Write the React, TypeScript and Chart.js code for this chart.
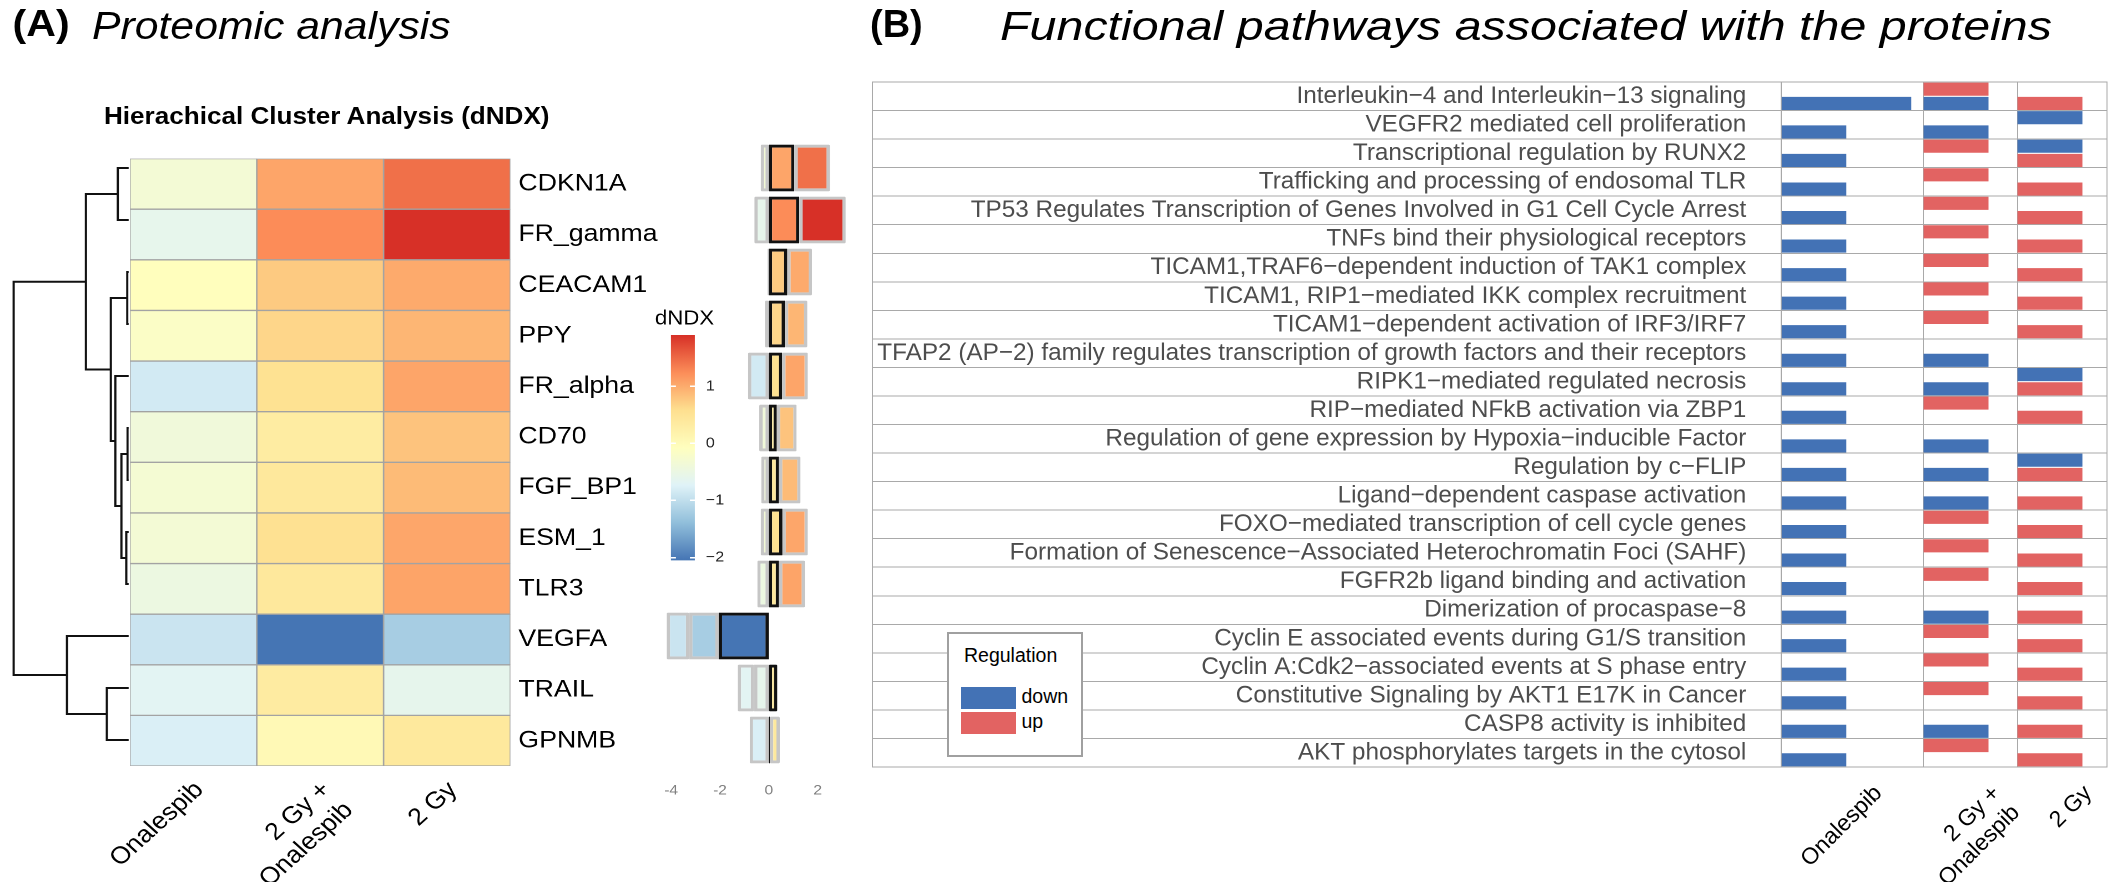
import React, { useEffect, useRef } from 'react';
import { Chart, registerables } from 'chart.js';

Chart.register(...registerables);

const SX = 1.11; // panel A of the reference is horizontally stretched
const FONT = "'Liberation Sans', Arial, Helvetica, sans-serif";
Chart.defaults.font.family = FONT;

/* ---------------- Panel A data ---------------- */
const proteins = ['CDKN1A', 'FR_gamma', 'CEACAM1', 'PPY', 'FR_alpha', 'CD70', 'FGF_BP1', 'ESM_1', 'TLR3', 'VEGFA', 'TRAIL', 'GPNMB'];
const treatmentLabels: (string | string[])[] = ['Onalespib', ['2 Gy +', 'Onalespib'], '2 Gy'];
const onalespibDNDX = [-0.33, -0.59, -0.05, -0.16, -0.85, -0.39, -0.31, -0.33, -0.47, -0.92, -0.67, -0.78];
const comboDNDX = [1.05, 1.25, 0.76, 0.66, 0.55, 0.33, 0.42, 0.56, 0.42, -2.05, 0.35, 0.05];
const gyDNDX = [1.45, 1.9, 1.01, 0.92, 1.05, 0.81, 0.88, 1.04, 1.06, -1.21, -0.6, 0.4];
// hclust-style merges (negative = leaf index, positive = earlier merge) and heights
const dendroMerges: [number, number][] = [[-3, -4], [-6, -7], [-8, -9], [2, 3], [-1, -2], [-5, 4], [1, 6], [-11, -12], [5, 7], [-10, 8], [9, 10]];
const dendroHeights = [1.5, 1.2, 2.5, 7.4, 11, 13.5, 18, 22, 43, 62, 115.5];
const annotationRange = [-4.3, 3.2];
const PALETTE = ['#4575b4', '#91bfdb', '#e0f3f8', '#ffffbf', '#fee090', '#fc8d59', '#d73027'];

/* ---------------- Panel B data ---------------- */
const pathways = [
  'Interleukin\u22124 and Interleukin\u221213 signaling',
  'VEGFR2 mediated cell proliferation',
  'Transcriptional regulation by RUNX2',
  'Trafficking and processing of endosomal TLR',
  'TP53 Regulates Transcription of Genes Involved in G1 Cell Cycle Arrest',
  'TNFs bind their physiological receptors',
  'TICAM1,TRAF6\u2212dependent induction of TAK1 complex',
  'TICAM1, RIP1\u2212mediated IKK complex recruitment',
  'TICAM1\u2212dependent activation of IRF3/IRF7',
  'TFAP2 (AP\u22122) family regulates transcription of growth factors and their receptors',
  'RIPK1\u2212mediated regulated necrosis',
  'RIP\u2212mediated NFkB activation via ZBP1',
  'Regulation of gene expression by Hypoxia\u2212inducible Factor',
  'Regulation by c\u2212FLIP',
  'Ligand\u2212dependent caspase activation',
  'FOXO\u2212mediated transcription of cell cycle genes',
  'Formation of Senescence\u2212Associated Heterochromatin Foci (SAHF)',
  'FGFR2b ligand binding and activation',
  'Dimerization of procaspase\u22128',
  'Cyclin E associated events during G1/S transition',
  'Cyclin A:Cdk2\u2212associated events at S phase entry',
  'Constitutive Signaling by AKT1 E17K in Cancer',
  'CASP8 activity is inhibited',
  'AKT phosphorylates targets in the cytosol',
];
const N = null;
const onalespibDown = [2, 1, 1, 1, 1, 1, 1, 1, 1, 1, 1, 1, 1, 1, 1, 1, 1, 1, 1, 1, 1, 1, 1, 1];
const onalespibUp = [N, N, N, N, N, N, N, N, N, N, N, N, N, N, N, N, N, N, N, N, N, N, N, N];
const comboDown = [1, 1, N, N, N, N, N, N, N, 1, 1, N, 1, 1, 1, N, N, N, 1, N, N, N, 1, N];
const comboUp = [1, N, 1, 1, 1, 1, 1, 1, 1, N, N, 1, N, N, N, 1, 1, 1, N, 1, 1, 1, N, 1];
const gyDown = [N, 1, 1, N, N, N, N, N, N, N, 1, N, N, 1, N, N, N, N, N, N, N, N, N, N];
const gyUp = [1, N, 1, 1, 1, 1, 1, 1, 1, N, 1, 1, N, 1, 1, 1, 1, 1, 1, 1, 1, 1, 1, 1];
const panelBLimits = [2.19, 1.446, 1.378]; // x-range of each facet column

/* ---------------- styles / layout (real page px) ---------------- */
const DOWN = '#4372b5';
const UP = '#e26362';
const GRID = '#a9a9a9';
const HM = { l: 129.4, r: 509.4, t: 141.7, b: 765.7 };
const DEN_L = 8;
const AN = { l: 655.8, r: 846.3 };
const CB = { l: 671, r: 695, t: 335, b: 569 };
const PB = { l: 872, c1: 1781.3, r: 2107.3, t: 81.7, b: 766.7 };

const u = (v: number) => v / SX;

const allVals = [...onalespibDNDX, ...comboDNDX, ...gyDNDX];
const dMin = Math.min(...allVals);
const dMax = Math.max(...allVals);

function hexToRgb(h: string) {
  const n = parseInt(h.slice(1), 16);
  return [(n >> 16) & 255, (n >> 8) & 255, n & 255];
}
function colorFor(v: number) {
  const t = Math.max(0, Math.min(1, (v - dMin) / (dMax - dMin))) * (PALETTE.length - 1);
  const i = Math.min(Math.floor(t), PALETTE.length - 2);
  const f = t - i;
  const a = hexToRgb(PALETTE[i]);
  const b = hexToRgb(PALETTE[i + 1]);
  return `rgb(${a.map((x, k) => Math.round(x + (b[k] - x) * f)).join(',')})`;
}

const baseOpts = {
  responsive: false,
  animation: false,
  devicePixelRatio: 2,
  events: [] as string[],
};
const noPlugins = { legend: { display: false }, tooltip: { enabled: false } };

function dendroConfig(): any {
  const pos: { y: number; h: number }[] = [];
  const node = (k: number) => (k < 0 ? { y: -k - 0.5, h: 0 } : pos[k - 1]);
  const links = dendroMerges.map(([a, b], i) => {
    const A = node(a);
    const B = node(b);
    const h = dendroHeights[i];
    pos.push({ y: (A.y + B.y) / 2, h });
    return [{ x: A.h, y: A.y }, { x: h, y: A.y }, { x: h, y: B.y }, { x: B.h, y: B.y }];
  });
  return {
    type: 'scatter',
    data: {
      datasets: links.map((d) => ({
        data: d, showLine: true, borderColor: '#111', borderWidth: 2, pointRadius: 0, clip: false, tension: 0,
      })),
    },
    options: {
      ...baseOpts,
      layout: { padding: 0 },
      plugins: noPlugins,
      scales: {
        x: { type: 'linear', min: 0, max: HM.l - DEN_L, reverse: true, display: false },
        y: { type: 'linear', min: 0, max: proteins.length, reverse: true, display: false },
      },
    },
  };
}

function heatmapConfig(): any {
  const cols = [onalespibDNDX, comboDNDX, gyDNDX];
  return {
    type: 'bar',
    data: {
      labels: proteins,
      datasets: cols.map((vals, c) => ({
        data: vals.map(() => [c, c + 1]),
        backgroundColor: vals.map(colorFor),
        borderColor: '#a3a3a3',
        borderWidth: 1,
        borderSkipped: false,
        grouped: false,
        barPercentage: 1,
        categoryPercentage: 1,
        xAxisID: 'x',
        yAxisID: 'y',
      })),
    },
    options: {
      ...baseOpts,
      indexAxis: 'y',
      layout: { padding: { left: u(60), top: 5, right: 0, bottom: 0 } },
      plugins: noPlugins,
      scales: {
        x: { type: 'linear', min: 0, max: 3, display: false },
        xc: {
          type: 'category', axis: 'x', position: 'bottom', labels: treatmentLabels, offset: true,
          grid: { display: false, drawTicks: false }, border: { display: false },
          ticks: { autoSkip: false, minRotation: 45, maxRotation: 45, padding: 10, labelOffset: 5.5, color: '#000', font: { size: 24 } },
          afterFit: (s: any) => { s.height = 120; },
        },
        y: {
          type: 'category', position: 'right',
          grid: { display: false, drawTicks: false }, border: { display: false },
          ticks: { autoSkip: false, padding: u(8), color: '#000', font: { size: 24 } },
          afterFit: (s: any) => { s.width = u(200); },
        },
      },
    },
  };
}

function annotationConfig(): any {
  const sets = [
    { vals: comboDNDX, border: '#111' },
    { vals: gyDNDX, border: '#c6c6c6' },
    { vals: onalespibDNDX, border: '#c6c6c6' },
  ];
  return {
    type: 'bar',
    data: {
      labels: proteins,
      datasets: sets.map((s) => ({
        data: s.vals,
        backgroundColor: s.vals.map(colorFor),
        borderColor: s.border,
        borderWidth: 3,
        borderSkipped: false,
        borderRadius: 1,
        barPercentage: 0.9,
        categoryPercentage: 1,
      })),
    },
    options: {
      ...baseOpts,
      indexAxis: 'y',
      layout: { padding: { left: u(10), right: u(10), top: 5, bottom: 0 } },
      plugins: noPlugins,
      scales: {
        x: {
          type: 'linear', min: annotationRange[0], max: annotationRange[1], stacked: true,
          grid: { display: false, drawTicks: false }, border: { display: false },
          ticks: { stepSize: 2, includeBounds: false, color: '#808080', font: { size: 14 }, padding: 16 },
          afterFit: (s: any) => { s.height = 50; },
        },
        y: { type: 'category', stacked: true, display: false },
      },
    },
  };
}

function colorbarConfig(): any {
  return {
    type: 'bar',
    data: {
      labels: ['dNDX'],
      datasets: [{
        data: [[dMin, dMax]],
        backgroundColor: (ctx: any) => {
          const a = ctx.chart.chartArea;
          if (!a) return '#fff';
          const g = ctx.chart.ctx.createLinearGradient(0, a.bottom, 0, a.top);
          PALETTE.forEach((c, i) => g.addColorStop(i / (PALETTE.length - 1), c));
          return g;
        },
        borderWidth: 0,
        barPercentage: 1,
        categoryPercentage: 1,
        xAxisID: 'x',
        yAxisID: 'y',
      }],
    },
    options: {
      ...baseOpts,
      layout: { padding: { left: 0, right: 0, top: 0, bottom: 10 } },
      plugins: {
        ...noPlugins,
        title: { display: true, text: 'dNDX', align: 'start', color: '#000', font: { size: 20, weight: 'normal' }, padding: { top: 0, bottom: 4 } },
      },
      scales: {
        x: { type: 'category', display: false },
        yl: {
          type: 'linear', axis: 'y', position: 'left', display: true,
          ticks: { display: false }, grid: { display: false, drawTicks: false }, border: { display: false },
          afterFit: (s: any) => { s.width = u(16); },
        },
        y: {
          type: 'linear', position: 'right', min: dMin, max: dMax,
          ticks: {
            stepSize: 1, includeBounds: false, padding: u(11), color: '#222', font: { size: 14.5 },
            callback: (v: any) => (Number(v) < 0 ? '\u2212' + Math.abs(Number(v)) : String(v)),
          },
          grid: { display: true, drawTicks: false, color: '#ffffff', lineWidth: 1.5, z: 1 },
          border: { display: false, dash: [u(5), u(14)] },
          afterFit: (s: any) => { s.width = u(40); },
        },
      },
    },
  };
}

const framePlugin = {
  id: 'frame',
  beforeDatasetsDraw(chart: any) {
    const { ctx, chartArea: a } = chart;
    ctx.save();
    ctx.strokeStyle = GRID;
    ctx.lineWidth = 1;
    ctx.strokeRect(a.left, a.top, a.right - a.left, a.bottom - a.top);
    const x = chart.scales.y.left + 0.5;
    ctx.beginPath();
    ctx.moveTo(x, a.top);
    ctx.lineTo(x, a.bottom);
    ctx.stroke();
    ctx.restore();
  },
};

function panelBConfig(): any {
  const starts = panelBLimits.map((_, i) => panelBLimits.slice(0, i).reduce((a, b) => a + b, 0));
  const total = panelBLimits.reduce((a, b) => a + b, 0);
  const bounds = [...starts, total];
  const centers = starts.map((s, i) => s + panelBLimits[i] / 2);
  const series: { col: number; reg: 'up' | 'down'; vals: (number | null)[]; slot: string }[] = [
    { col: 0, reg: 'up', vals: onalespibUp, slot: 'top' },
    { col: 0, reg: 'down', vals: onalespibDown, slot: 'bottom' },
    { col: 1, reg: 'up', vals: comboUp, slot: 'top' },
    { col: 1, reg: 'down', vals: comboDown, slot: 'bottom' },
    { col: 2, reg: 'down', vals: gyDown, slot: 'top' },
    { col: 2, reg: 'up', vals: gyUp, slot: 'bottom' },
  ];
  const labelW = PB.c1 - PB.l;
  return {
    type: 'bar',
    data: {
      labels: pathways,
      datasets: series.map((s) => ({
        label: s.reg,
        data: s.vals.map((v) => (v == null ? null : [starts[s.col], starts[s.col] + v])),
        backgroundColor: s.reg === 'up' ? UP : DOWN,
        borderWidth: 0,
        stack: s.slot,
        barPercentage: 0.92,
        categoryPercentage: 1,
        xAxisID: 'x',
        yAxisID: 'y',
      })),
    },
    options: {
      ...baseOpts,
      indexAxis: 'y',
      layout: { padding: { left: 2, right: 10, top: 4, bottom: 0 } },
      plugins: noPlugins,
      scales: {
        x: {
          type: 'linear', min: 0, max: total, stacked: false, position: 'bottom',
          afterBuildTicks: (s: any) => { s.ticks = bounds.map((v) => ({ value: v })); },
          ticks: { display: false },
          grid: { color: GRID, lineWidth: 1, drawTicks: false },
          border: { display: false },
          afterFit: (s: any) => { s.height = 0; },
        },
        xl: {
          type: 'linear', axis: 'x', position: 'bottom', min: 0, max: total,
          afterBuildTicks: (s: any) => { s.ticks = centers.map((v) => ({ value: v })); },
          grid: { display: false, drawTicks: false }, border: { display: false },
          ticks: {
            autoSkip: false, minRotation: 45, maxRotation: 45, padding: 13, labelOffset: 26,
            color: '#000', font: { size: 23 },
            callback: (_v: any, i: number) => treatmentLabels[i],
          },
          afterFit: (s: any) => { s.height = 130; },
        },
        y: {
          type: 'category', position: 'left',
          grid: { color: GRID, lineWidth: 1, drawTicks: true, tickLength: labelW, tickColor: GRID, tickWidth: 1, offset: true },
          border: { display: true, color: GRID, width: 1 },
          ticks: { autoSkip: false, padding: 35 - labelW, color: '#4d4d4d', font: { size: 24.3 } },
          afterFit: (s: any) => { s.width = labelW; },
        },
      },
    },
    plugins: [framePlugin],
  };
}

function ChartCanvas({ x, y, w, h, sx, make }: { x: number; y: number; w: number; h: number; sx: number; make: () => any }) {
  const ref = useRef<HTMLCanvasElement | null>(null);
  useEffect(() => {
    if (!ref.current) return;
    const chart = new Chart(ref.current, make());
    return () => chart.destroy();
  }, []);
  const cw = Math.round(w / sx);
  const ch = Math.round(h);
  return (
    <canvas
      ref={ref}
      width={cw}
      height={ch}
      style={{ position: 'absolute', left: x / sx, top: y, width: cw, height: ch, display: 'block' }}
    />
  );
}

function Txt({ x, y, size, bold, italic, stretch, children }: any) {
  return (
    <div
      style={{
        position: 'absolute', left: x, top: y, fontSize: size, lineHeight: 1,
        fontWeight: bold ? 'bold' : 'normal', fontStyle: italic ? 'italic' : 'normal',
        whiteSpace: 'nowrap', color: '#000', fontFamily: FONT,
        transform: stretch ? `scaleX(${stretch})` : undefined, transformOrigin: '0 0',
      }}
    >
      {children}
    </div>
  );
}

function RegulationLegend() {
  return (
    <div
      style={{
        position: 'absolute', left: 947, top: 632.3, width: 135.5, height: 125, boxSizing: 'border-box',
        border: '2px solid #a0a0a0', background: '#fff', fontFamily: FONT, fontSize: 19.5, lineHeight: 1, color: '#000',
      }}
    >
      <div style={{ position: 'absolute', left: 15, top: 11.5, whiteSpace: 'nowrap' }}>Regulation</div>
      <div style={{ position: 'absolute', left: 12, top: 52.4, width: 54.6, height: 22.6, background: DOWN }} />
      <div style={{ position: 'absolute', left: 12, top: 77.4, width: 54.6, height: 22.6, background: UP }} />
      <div style={{ position: 'absolute', left: 72.5, top: 53, whiteSpace: 'nowrap' }}>down</div>
      <div style={{ position: 'absolute', left: 72.5, top: 78, whiteSpace: 'nowrap' }}>up</div>
    </div>
  );
}

export default function App() {
  return (
    <div style={{ position: 'fixed', left: 0, top: 0, width: 2121, height: 882, overflow: 'hidden', background: '#fff' }}>
      {/* Panel A (stretched horizontally like the reference) */}
      <div
        style={{
          position: 'absolute', left: 0, top: 0, width: 870 / SX, height: 882,
          transform: `scaleX(${SX})`, transformOrigin: '0 0',
        }}
      >
        <Txt x={u(12.6)} y={5} size={37} bold>(A)</Txt>
        <Txt x={u(92)} y={6.7} size={38.5} italic>Proteomic analysis</Txt>
        <Txt x={u(104)} y={104.8} size={23.5} bold>Hierachical Cluster Analysis (dNDX)</Txt>

        <ChartCanvas sx={SX} x={DEN_L} y={HM.t} w={HM.l - DEN_L} h={HM.b - HM.t} make={dendroConfig} />
        <ChartCanvas sx={SX} x={HM.l - 60} y={HM.t - 5} w={60 + (HM.r - HM.l) + 200} h={5 + (HM.b - HM.t) + 120} make={heatmapConfig} />
        <ChartCanvas sx={SX} x={AN.l - 10} y={HM.t - 5} w={10 + (AN.r - AN.l) + 10} h={5 + (HM.b - HM.t) + 50} make={annotationConfig} />
        <ChartCanvas sx={SX} x={CB.l - 16} y={CB.t - 28} w={16 + (CB.r - CB.l) + 40} h={28 + (CB.b - CB.t) + 10} make={colorbarConfig} />
      </div>

      {/* Panel B */}
      <Txt x={870} y={5} size={38} bold>(B)</Txt>
      <Txt x={1000} y={6} size={40} italic stretch={1.21}>Functional pathways associated with the proteins</Txt>
      <ChartCanvas sx={1} x={PB.l - 2} y={PB.t - 4} w={2 + (PB.c1 - PB.l) + (PB.r - PB.c1) + 10} h={4 + (PB.b - PB.t) + 130} make={panelBConfig} />
      <RegulationLegend />
    </div>
  );
}
